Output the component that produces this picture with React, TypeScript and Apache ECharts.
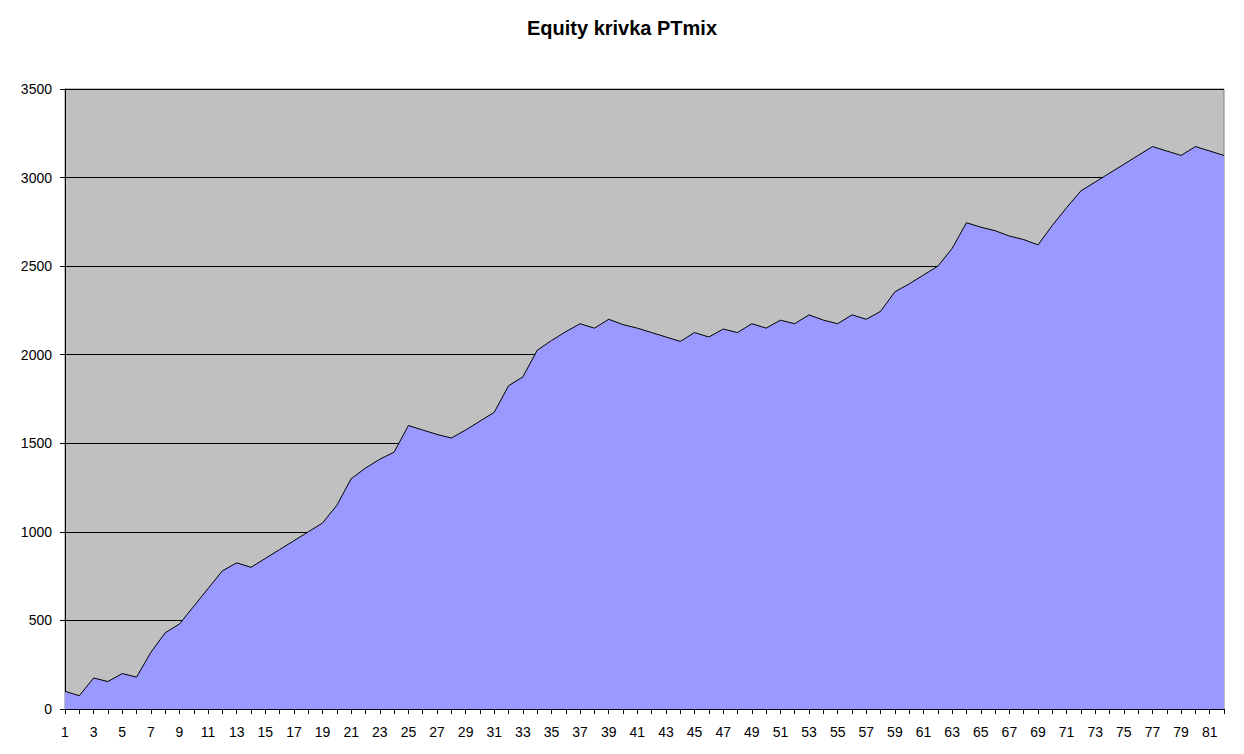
import React, { useEffect, useRef } from "react";
import * as echarts from "echarts";

const titleText = "Equity krivka PTmix";

const categories: string[] = Array.from({ length: 82 }, (_, i) => String(i + 1));

const equity: number[] = [
  100, 75, 175, 155, 200, 180, 320, 430, 480, 580,
  680, 780, 825, 800, 850, 900, 950, 1000, 1050, 1150,
  1300, 1360, 1410, 1450, 1600, 1575, 1550, 1530, 1575, 1625,
  1675, 1825, 1875, 2025, 2080, 2130, 2175, 2150, 2200, 2170,
  2150, 2125, 2100, 2075, 2125, 2100, 2145, 2125, 2175, 2150,
  2195, 2175, 2225, 2195, 2175, 2225, 2200, 2245, 2355, 2400,
  2450, 2500, 2600, 2745, 2720, 2700, 2670, 2650, 2620, 2730,
  2830, 2925, 2975, 3025, 3075, 3125, 3175, 3150, 3125, 3175,
  3150, 3125,
];

const yMin = 0;
const yMax = 3500;
const yStep = 500;

export default function App() {
  const ref = useRef<HTMLDivElement>(null);

  useEffect(() => {
    if (!ref.current) return;
    const chart = echarts.init(ref.current, undefined, { renderer: "svg" });
    const font = "'Liberation Sans', Arial, sans-serif";
    chart.setOption({
      animation: false,
      backgroundColor: "#ffffff",
      title: {
        text: titleText,
        left: "center",
        top: 13,
        textStyle: {
          fontFamily: font,
          fontWeight: "bold",
          fontSize: 20,
          color: "#000000",
        },
      },
      grid: {
        left: 65,
        right: 20,
        top: 89,
        bottom: 45,
        show: true,
        backgroundColor: "#C0C0C0",
        borderColor: "#808080",
        borderWidth: 1,
      },
      xAxis: {
        type: "category",
        data: categories,
        boundaryGap: false,
        axisLine: { show: true, lineStyle: { color: "#000000", width: 1 } },
        axisTick: {
          show: true,
          interval: 0,
          length: 5,
          lineStyle: { color: "#000000" },
        },
        axisLabel: {
          interval: 1,
          fontFamily: font,
          fontSize: 14,
          color: "#000000",
          margin: 16,
        },
        splitLine: { show: false },
      },
      yAxis: {
        type: "value",
        min: yMin,
        max: yMax,
        interval: yStep,
        axisLine: { show: true, lineStyle: { color: "#000000", width: 1 } },
        axisTick: { show: true, length: 5, lineStyle: { color: "#000000" } },
        axisLabel: {
          fontFamily: font,
          fontSize: 14,
          color: "#000000",
          margin: 13,
          formatter: (v: number) => String(v),
        },
        splitLine: { show: true, lineStyle: { color: "#000000", width: 1 } },
      },
      series: [
        {
          type: "line",
          data: equity,
          symbol: "none",
          lineStyle: { color: "#000000", width: 1 },
          areaStyle: { color: "#9999FF", opacity: 1 },
          z: 3,
        },
      ],
    });
    return () => chart.dispose();
  }, []);

  return (
    <div
      ref={ref}
      style={{ position: "fixed", left: 0, top: 0, width: 1244, height: 754 }}
    />
  );
}
